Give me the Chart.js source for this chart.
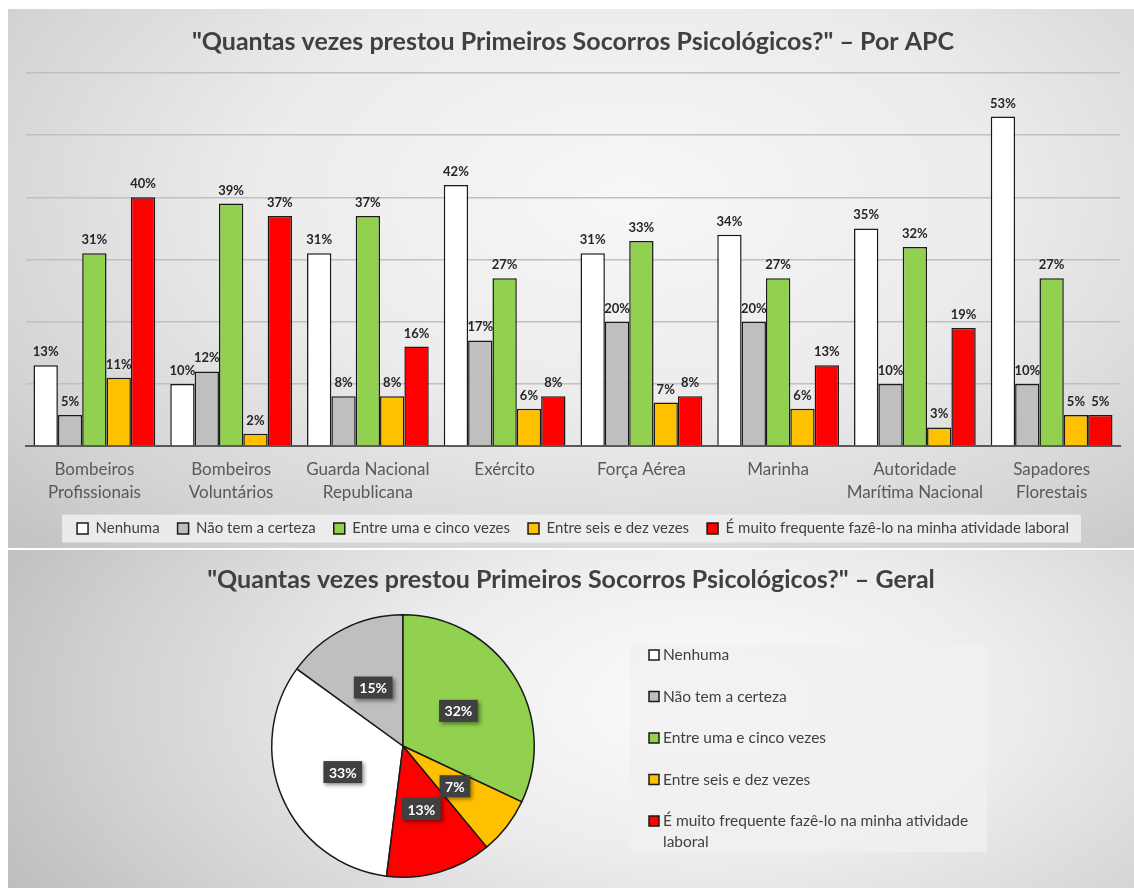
<!DOCTYPE html>
<html>
<head>
<meta charset="utf-8">
<script src="https://cdn.jsdelivr.net/npm/chart.js@4.4.1/dist/chart.umd.min.js"></script>
<style>
  body { margin: 0; background: #fff; width: 1134px; height: 888px; overflow: hidden; }
  .panel { position: absolute; left: 8px; width: 1126px; }
  #topPanel { top: 9px; height: 539px;
    background: radial-gradient(ellipse 75% 90% at 55% 35%, #f7f7f7 0%, #ebebeb 45%, #d4d4d4 80%, #c4c4c4 100%); }
  #bottomPanel { top: 550px; height: 338px;
    background: radial-gradient(ellipse 70% 120% at 62% 45%, #fcfcfc 0%, #ececec 40%, #d2d2d2 75%, #bdbdbd 100%); }
  canvas { display: block; }
</style>
</head>
<body>
<div id="topPanel" class="panel"><canvas id="barChart" width="1126" height="539"></canvas></div>
<div id="bottomPanel" class="panel"><canvas id="pieChart" width="1126" height="338"></canvas></div>
<script>
const categories = [
  ['Bombeiros', 'Profissionais'],
  ['Bombeiros', 'Voluntários'],
  ['Guarda Nacional', 'Republicana'],
  'Exército',
  'Força Aérea',
  'Marinha',
  ['Autoridade', 'Marítima Nacional'],
  ['Sapadores', 'Florestais']
];
const seriesNames = [
  'Nenhuma',
  'Não tem a certeza',
  'Entre uma e cinco vezes',
  'Entre seis e dez vezes',
  'É muito frequente fazê-lo na minha atividade laboral'
];
const seriesColors = ['#ffffff', '#bfbfbf', '#92d050', '#ffc000', '#ff0000'];
const nenhuma      = [13, 10, 31, 42, 31, 34, 35, 53];
const naoTem       = [5, 12, 8, 17, 20, 20, 10, 10];
const umaCinco     = [31, 39, 37, 27, 33, 27, 32, 27];
const seisDez      = [11, 2, 8, 6, 7, 6, 3, 5];
const muitoFreq    = [40, 37, 16, 8, 8, 13, 19, 5];
const geral        = [33, 15, 32, 7, 13];
const yTicks       = [0, 10, 20, 30, 40, 50, 60];

const FONT = 'Lato, "Open Sans", sans-serif';
const barSeries = [nenhuma, naoTem, umaCinco, seisDez, muitoFreq];

const barLabels = {
  id: 'barLabels',
  afterDatasetsDraw(chart) {
    const ctx = chart.ctx;
    ctx.save();
    ctx.font = 'bold 13px ' + FONT;
    ctx.fillStyle = '#262626';
    ctx.textAlign = 'center';
    ctx.textBaseline = 'alphabetic';
    chart.data.datasets.forEach((ds, i) => {
      chart.getDatasetMeta(i).data.forEach((bar, j) => {
        ctx.fillText(ds.data[j] + '%', bar.x, bar.y - 9);
      });
    });
    ctx.restore();
  }
};

const legendBox = {
  id: 'legendBox',
  beforeDraw(chart) {
    const boxes = chart.legend.legendHitBoxes;
    if (!boxes || !boxes.length) return;
    const first = boxes[0], last = boxes[boxes.length - 1];
    const ctx = chart.ctx;
    ctx.save();
    ctx.fillStyle = 'rgba(240,240,240,0.85)';
    ctx.fillRect(first.left - 15, first.top + first.height / 2 - 14, last.left + last.width - first.left + 27, 28);
    ctx.restore();
  }
};

new Chart('barChart', {
  type: 'bar',
  data: {
    labels: categories,
    datasets: barSeries.map((d, i) => ({
      label: seriesNames[i],
      data: d,
      backgroundColor: seriesColors[i],
      borderColor: '#1a1a1a',
      borderWidth: 1.5,
      borderSkipped: 'bottom',
      categoryPercentage: 0.89,
      barPercentage: 1
    }))
  },
  options: {
    responsive: false,
    animation: false,
    devicePixelRatio: 1,
    layout: { padding: { left: 18, right: 14, bottom: 2 } },
    plugins: {
      title: {
        display: true,
        text: '"Quantas vezes prestou Primeiros Socorros Psicológicos?" – Por APC',
        color: '#404040',
        font: { family: FONT, size: 25, weight: 'bold' },
        padding: { top: 18, bottom: 16 }
      },
      legend: {
        position: 'bottom',
        labels: {
          boxWidth: 11,
          boxHeight: 11,
          padding: 18,
          color: '#404040',
          font: { family: FONT, size: 15 }
        }
      },
      tooltip: { enabled: false }
    },
    scales: {
      x: {
        grid: { display: false, drawTicks: false, tickLength: 0 },
        border: { display: true, color: '#595959', width: 2 },
        ticks: {
          color: '#595959',
          font: { family: FONT, size: 17, lineHeight: 1.35 },
          padding: 12,
          maxRotation: 0,
          autoSkip: false
        },
        afterFit: (scale) => { scale.height -= 13; }
      },
      y: {
        min: yTicks[0],
        max: yTicks[yTicks.length - 1],
        afterBuildTicks: (scale) => { scale.ticks = yTicks.map(v => ({ value: v })); },
        ticks: { display: false },
        grid: { color: '#c0c0c0', lineWidth: 1.5, drawTicks: false },
        border: { display: false }
      }
    }
  },
  plugins: [legendBox, barLabels]
});

// pie chart
const pieArea = {
  id: 'pieArea',
  afterLayout(chart) {
    const ca = chart.chartArea;
    const size = ca.bottom - ca.top;
    ca.left = 263;
    ca.right = ca.left + size;
    ca.width = size;
    ca.height = size;
  }
};

const pieLabels = {
  id: 'pieLabels',
  afterDatasetsDraw(chart) {
    const ctx = chart.ctx;
    const ds = chart.data.datasets[0];
    ctx.save();
    ctx.font = 'bold 14px ' + FONT;
    ctx.textAlign = 'center';
    ctx.textBaseline = 'middle';
    chart.getDatasetMeta(0).data.forEach((arc, i) => {
      const p = arc.tooltipPosition();
      const txt = ds.data[i] + '%';
      const w = ctx.measureText(txt).width + 11;
      const h = 22;
      ctx.shadowColor = 'rgba(0,0,0,0.45)';
      ctx.shadowBlur = 4;
      ctx.shadowOffsetX = 2;
      ctx.shadowOffsetY = 2;
      ctx.fillStyle = '#404040';
      ctx.fillRect(p.x - w / 2, p.y - h / 2, w, h);
      ctx.shadowColor = 'transparent';
      ctx.fillStyle = '#ffffff';
      ctx.fillText(txt, p.x, p.y + 1);
    });
    ctx.restore();
  }
};

const pieLegend = {
  id: 'pieLegend',
  afterDraw(chart) {
    const ctx = chart.ctx;
    const left = 622, top = 95, width = 357, height = 207;
    const step = 41.5, maxText = 315;
    ctx.save();
    ctx.fillStyle = 'rgba(240,240,240,0.8)';
    ctx.fillRect(left, top, width, height);
    ctx.font = '15.5px ' + FONT;
    ctx.textBaseline = 'middle';
    ctx.textAlign = 'left';
    seriesNames.forEach((name, i) => {
      const y = top + 10 + i * step;
      ctx.fillStyle = seriesColors[i];
      ctx.strokeStyle = '#1a1a1a';
      ctx.lineWidth = 1.5;
      ctx.fillRect(left + 19, y - 5, 10, 10);
      ctx.strokeRect(left + 19, y - 5, 10, 10);
      ctx.fillStyle = '#404040';
      const words = name.split(' ');
      let line = '', lines = [];
      words.forEach(wd => {
        const test = line ? line + ' ' + wd : wd;
        if (ctx.measureText(test).width > maxText && line) { lines.push(line); line = wd; }
        else line = test;
      });
      lines.push(line);
      lines.forEach((ln, k) => ctx.fillText(ln, left + 33, y + k * 21));
    });
    ctx.restore();
  }
};

new Chart('pieChart', {
  type: 'pie',
  data: {
    labels: seriesNames,
    datasets: [{
      data: geral,
      backgroundColor: seriesColors,
      borderColor: '#1a1a1a',
      borderWidth: 1.5
    }]
  },
  options: {
    responsive: false,
    animation: false,
    devicePixelRatio: 1,
    rotation: 360 * (1 - (geral[0] + geral[1]) / 100),
    layout: { padding: { bottom: 10 } },
    plugins: {
      title: {
        display: true,
        text: '"Quantas vezes prestou Primeiros Socorros Psicológicos?" – Geral',
        color: '#404040',
        font: { family: FONT, size: 25, weight: 'bold' },
        padding: { top: 15, bottom: 19 }
      },
      legend: { display: false },
      tooltip: { enabled: false }
    }
  },
  plugins: [pieArea, pieLabels, pieLegend]
});
</script>
</body>
</html>
